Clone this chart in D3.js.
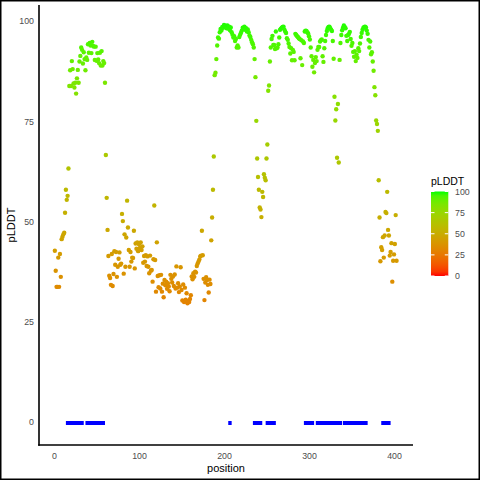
<!DOCTYPE html>
<html>
<head>
<meta charset="utf-8">
<script src="https://cdn.jsdelivr.net/npm/d3@7"></script>
<style>
body { margin: 0; background: #fff; }
text { font-family: "Liberation Sans", Arial, sans-serif; }
</style>
</head>
<body>
<div id="chart"></div>
<script>

// pLDDT per residue, starting at residue 1
var plddt = [
    // 1-17
    42.7, 37.7, 33.7, 33.7, 41.0, 33.7, 41.9, 36.2, 45.6, 46.2, 46.8, 47.2, 52.2, 57.9, 55.4, 56.4, 63.2,
    // 18-59
    83.8, 87.7, 83.8, 90.0, 88.0, 84.4, 83.4, 84.6, 81.9, 85.7, 87.8, 84.6, 89.9, 91.3, 93.4, 92.8, 89.4,
    92.2, 90.5, 87.7, 90.9, 90.3, 94.2, 92.1, 94.5, 93.9, 92.0, 94.8, 93.8, 93.6, 90.3, 93.6, 90.1, 92.0,
    90.4, 89.5, 92.1, 88.9, 92.5, 88.9, 90.0, 89.5,
    // 60-75
    84.6, 66.6, 55.9, 47.9, 41.4,
    36.5, 35.9, 34.2, 41.9, 33.9, 36.9, 42.6, 39.2, 42.4, 36.2, 38.7,
    // 76-104
    40.7, 42.3, 39.2, 39.5, 51.9, 50.1, 37.0, 46.8, 38.7, 46.0, 55.2, 48.5, 42.9, 38.7, 42.4, 40.0, 41.0,
    40.9, 47.7, 38.3, 44.5, 43.2, 44.8, 42.6, 44.3, 43.4, 44.8, 42.9, 43.8,
    // 105-184
    39.7, 41.4, 40.0, 41.6, 38.9, 41.3, 38.7, 37.1, 41.5, 37.7, 37.9, 35.0, 40.6, 54.0, 40.4, 32.5, 44.8,
    36.4, 33.6, 36.6, 33.3, 36.7, 32.5, 34.5, 31.1, 35.4, 34.1, 35.0, 33.2, 34.6, 33.8, 32.6, 36.7, 35.7,
    34.8, 36.3, 33.9, 36.8, 33.3, 38.8, 33.5, 34.6, 32.4, 33.8, 38.6, 32.9, 30.3, 34.3, 29.9, 33.5, 30.5,
    32.1, 29.6, 30.2, 29.9, 30.7, 31.6, 36.3, 35.6, 37.1, 36.2, 37.5, 37.3, 38.9, 39.5, 40.0, 40.5, 41.3,
    41.5, 47.7, 41.6, 35.7, 30.4, 34.8, 36.1, 35.4, 34.2, 32.3, 35.5, 34.4,
    // 185-237
    45.3, 51.0, 57.9, 66.2, 86.5, 87.1, 90.5, 93.9, 95.9, 95.6,
    97.2, 98.0, 97.6, 98.5, 98.3, 99.0, 98.7, 98.8, 98.2, 98.9, 98.1, 98.6, 97.7, 98.4, 97.2, 96.6, 95.9,
    96.2, 95.0, 95.5, 93.4, 93.9, 93.4, 96.0, 96.6, 97.1, 97.6, 98.3, 98.0, 98.6, 97.8, 98.2, 97.4, 97.9,
    97.2, 96.4, 96.0, 95.3, 94.7, 94.2, 93.4, 90.5, 86.0,
    // 238-255
    75.1, 65.7, 61.1, 57.9, 53.5, 53.0, 51.1, 57.4, 56.1, 61.8, 60.9, 60.3, 65.7, 69.2, 82.6, 83.9, 89.9, 93.4,
    // 256-283
    95.5, 96.3, 94.0, 94.0, 93.0, 97.4, 93.2, 93.4, 94.2, 95.9, 97.8, 98.1, 98.3, 98.5, 98.6, 97.9, 97.4,
    97.0, 95.7, 95.3, 94.4, 93.5, 91.9, 93.2, 90.2, 92.8, 92.3, 90.2,
    // 284-335
    96.8, 96.5, 96.2, 96.0, 95.7, 95.5, 90.7, 95.2, 89.0, 94.9, 94.5, 97.4, 97.6, 97.5, 97.2, 96.9, 96.2,
    95.4, 93.4, 91.2, 88.6, 90.3, 87.2, 89.5, 91.0, 90.0, 92.8, 93.5, 93.5, 94.9, 95.2, 95.4, 91.2, 89.8,
    93.2, 95.0, 96.5, 97.5, 98.2, 98.5, 98.6, 98.2, 97.8, 97.5, 95.0, 90.6, 81.1, 75.2, 78.0, 65.9, 79.3, 64.7,
    // 336-383
    90.3, 94.5, 96.5, 97.7, 98.3, 98.9, 98.5, 98.2, 96.3, 95.0, 96.5, 96.8, 97.3, 95.5, 93.8, 94.5, 92.3,
    91.1, 92.5, 90.0, 91.6, 90.8, 93.2, 92.5, 94.4, 96.0, 97.0, 97.8, 98.3, 98.5, 98.6, 98.4, 97.6, 96.8,
    95.3, 93.4, 94.9, 91.7, 92.2, 89.9, 87.6, 83.5, 81.5, 75.2, 74.3, 72.6, 60.3, 51.0,
    // 384-403
    40.1, 43.6, 42.9, 46.1, 41.0, 46.5, 52.4, 52.1, 57.4, 47.9, 46.5, 41.5, 42.4, 44.6, 35.0, 40.2, 41.8,
    44.4, 51.6, 40.2
];

// blue stretches drawn on the zero line
var segStart = [14, 37, 205, 234, 249, 294, 308, 340, 385];
var segEnd   = [35, 60, 209, 245, 261, 306, 339, 369, 396];

var xTicks = [0, 100, 200, 300, 400];
var yTicks = [0, 25, 50, 75, 100];
var legendTicks = [0, 25, 50, 75, 100];

var viz = {};

viz.plddt_plot = function(options)
{
    var self = {};

    for (key in options){
        self[key] = options[key];
    }

    self.init = function(){

        self.svg = d3.select(self.parent_select).append("svg")
            .attr("width", self.width)
            .attr("height", self.height);

        self.svg.append("rect")
            .attr("x", 0).attr("y", 0)
            .attr("width", self.width).attr("height", self.height)
            .attr("fill", "#fff");

        // scales

        self.x = d3.scaleLinear().domain([0, 400]).range([54, 394]);
        self.y = d3.scaleLinear().domain([0, 100]).range([422, 21]);
        self.colour = d3.scaleLinear().domain([0, 100])
            .range(["#ff0000", "#00ff00"])
            .interpolate(d3.interpolateLab);
    };

    self.render = function(){

        var x = self.x, y = self.y;

        // blue stretches
        self.svg.append("g").selectAll("rect")
            .data(segStart)
            .enter().append("rect")
            .attr("x", function(d){ return x(d); })
            .attr("width", function(d, i){ return x(segEnd[i]) - x(d); })
            .attr("y", y(0) - 1)
            .attr("height", 4)
            .attr("fill", "#0000ff");

        // points
        self.svg.append("g").selectAll("circle")
            .data(plddt)
            .enter().append("circle")
            .attr("cx", function(d, i){ return x(i + 1); })
            .attr("cy", function(d){ return y(d); })
            .attr("r", 2.2)
            .attr("fill", function(d){ return self.colour(d); });

        // axes

        var yAxis = self.svg.append("g")
            .attr("transform", "translate(" + self.panel.left + ",0)")
            .call(d3.axisLeft(y).tickValues(yTicks).tickSize(0).tickPadding(5));
        var xAxis = self.svg.append("g")
            .attr("transform", "translate(0," + self.panel.bottom + ")")
            .call(d3.axisBottom(x).tickValues(xTicks).tickSize(0).tickPadding(8));

        [xAxis, yAxis].forEach(function(g){
            g.select(".domain").remove();
            g.selectAll("text")
                .attr("fill", "#4d4d4d")
                .style("font-size", "8.8px")
                .style("font-family", "'Liberation Sans', Arial, sans-serif");
        });

        self.svg.append("line")
            .attr("x1", self.panel.left).attr("x2", self.panel.left)
            .attr("y1", self.panel.top).attr("y2", self.panel.bottom + 0.8)
            .attr("stroke", "#000").attr("stroke-width", 1.6);
        self.svg.append("line")
            .attr("x1", self.panel.left - 0.8).attr("x2", self.panel.right)
            .attr("y1", self.panel.bottom).attr("y2", self.panel.bottom)
            .attr("stroke", "#000").attr("stroke-width", 1.6);

        // titles

        self.svg.append("text")
            .attr("x", (self.panel.left + self.panel.right) / 2)
            .attr("y", 472)
            .attr("text-anchor", "middle")
            .style("font-size", "11px")
            .text("position");

        self.svg.append("text")
            .attr("transform", "translate(14.5," + ((self.panel.top + self.panel.bottom) / 2) + ") rotate(-90)")
            .attr("text-anchor", "middle")
            .style("font-size", "11px")
            .text("pLDDT");

        // colour bar legend

        var ly = d3.scaleLinear().domain([0, 100]).range([276, 191.5]);
        var grad = self.svg.append("defs").append("linearGradient")
            .attr("id", "plddtGrad")
            .attr("x1", 0).attr("y1", 1).attr("x2", 0).attr("y2", 0);
        d3.range(0, 101, 5).forEach(function(v){
            grad.append("stop")
                .attr("offset", v / 100)
                .attr("stop-color", self.colour(v));
        });

        self.svg.append("text")
            .attr("x", 431).attr("y", 185)
            .style("font-size", "10.5px")
            .text("pLDDT");

        self.svg.append("rect")
            .attr("x", 431).attr("y", ly(100))
            .attr("width", 17.3).attr("height", ly(0) - ly(100))
            .attr("fill", "url(#plddtGrad)");

        var lg = self.svg.append("g");
        lg.selectAll("line.l")
            .data(legendTicks).enter().append("line")
            .attr("x1", 431).attr("x2", 434.5)
            .attr("y1", function(d){ return ly(d); })
            .attr("y2", function(d){ return ly(d); })
            .attr("stroke", "#fff").attr("stroke-width", 1);
        lg.selectAll("line.r")
            .data(legendTicks).enter().append("line")
            .attr("x1", 444.8).attr("x2", 448.3)
            .attr("y1", function(d){ return ly(d); })
            .attr("y2", function(d){ return ly(d); })
            .attr("stroke", "#fff").attr("stroke-width", 1);
        lg.selectAll("text")
            .data(legendTicks).enter().append("text")
            .attr("x", 455)
            .attr("y", function(d){ return ly(d); })
            .attr("dy", "0.35em")
            .attr("fill", "#4d4d4d")
            .style("font-size", "8.8px")
            .text(function(d){ return d; });

        // outer frame
        self.svg.append("rect")
            .attr("x", 0.75).attr("y", 0.75)
            .attr("width", self.width - 1.5).attr("height", self.height - 1.5)
            .attr("fill", "none")
            .attr("stroke", "#000").attr("stroke-width", 1.5);
    };

    self.init();

    return self;
};

var chart = viz.plddt_plot({
    parent_select: "#chart",
    width: 480,
    height: 480,
    panel: {left: 39, right: 413, top: 5, bottom: 445}
});
chart.render();

</script>
</body>
</html>
